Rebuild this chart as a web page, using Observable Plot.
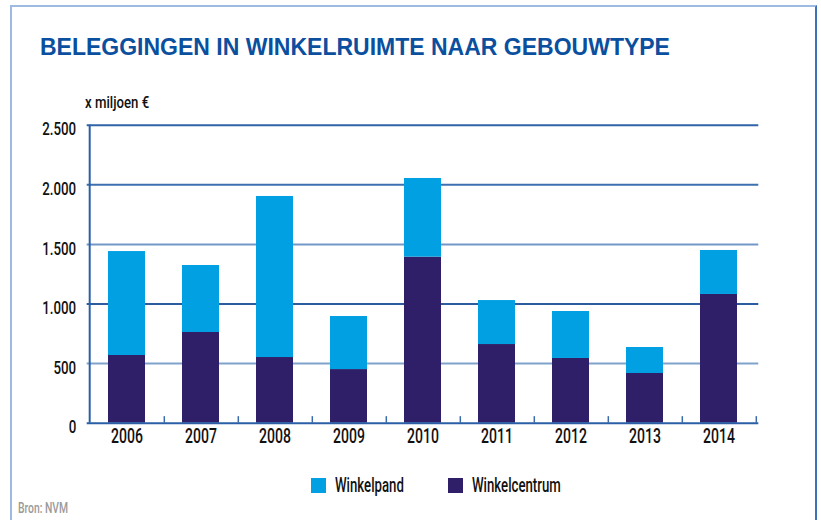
<!DOCTYPE html>
<html>
<head>
<meta charset="utf-8">
<script src="https://cdn.jsdelivr.net/npm/d3@7"></script>
<script src="https://cdn.jsdelivr.net/npm/@observablehq/plot@0.6"></script>
<style>
  html, body { margin: 0; padding: 0; background: #fff; }
  #wrap { position: relative; width: 821px; height: 520px; overflow: hidden; background: #fff;
          font-family: Roboto, 'DejaVu Sans Condensed', sans-serif; font-weight: 500; }
  #frame { position: absolute; left: 10px; top: 5px; width: 803px; height: 600px;
           border-top: 2px solid #9dbbe0; border-left: 2px solid #9dbbe0; border-right: 2px solid #3f73b8; }
  #title { position: absolute; left: 40px; top: 34px; font-family: 'Liberation Sans', Arial, sans-serif;
           font-weight: 700; font-size: 23px; color: #0b4f9f; white-space: nowrap; }
  .cond { display: inline-block; transform-origin: left center; white-space: nowrap; }
  #unit { position: absolute; left: 85px; top: 93px; font-size: 16.5px; color: #111; }
  #unit .cond { transform: scaleX(0.8); }
  #chart { position: absolute; left: 0; top: 100px; }
  .leg { position: absolute; top: 473px; display: flex; align-items: center; font-size: 20px; color: #111; white-space: nowrap; height: 24px; }
  .leg .cond { transform: scaleX(0.66); }
  .sw { width: 15px; height: 15px; margin-right: 9px; flex: none; }
  #src { position: absolute; left: 18px; top: 500px; font-size: 14px; color: #9a9a9a; }
  #src .cond { transform: scaleX(0.74); }
</style>
</head>
<body>
<div id="wrap">
  <div id="frame"></div>
  <div id="title">BELEGGINGEN IN WINKELRUIMTE NAAR GEBOUWTYPE</div>
  <div id="unit"><span class="cond">x miljoen €</span></div>
  <div id="chart"></div>
  <div class="leg" id="leg1" style="left:311px"></div>
  <div class="leg" id="leg2" style="left:448px"></div>
  <div id="src"><span class="cond">Bron: NVM</span></div>
</div>
<script>
// ---- data ----
const years = ["2006","2007","2008","2009","2010","2011","2012","2013","2014"];
const winkelcentrum = [568, 761, 551, 450, 1393, 660, 543, 417, 1080];
const winkelpand    = [872, 562, 1351, 445, 660, 369, 394, 218, 369];
const seriesNames = ["Winkelcentrum", "Winkelpand"];
const seriesColors = ["#2e1f68", "#00a0e2"];
const yTicks = [0, 500, 1000, 1500, 2000, 2500];
const gridValues = [500, 1000, 1500, 2000, 2500];
const gridColors = ["#80a3cc", "#2b5c9e", "#7298c8", "#3d70b0", "#2f64a8"];

// ---- table for stacking (bottom series first) ----
const table = [];
years.forEach((y, i) => table.push({year: y, type: seriesNames[0], value: winkelcentrum[i]}));
years.forEach((y, i) => table.push({year: y, type: seriesNames[1], value: winkelpand[i]}));
const colorOf = Object.fromEntries(seriesNames.map((n, i) => [n, seriesColors[i]]));

const W = 821, H = 360;
const mL = 86.7, mR = 62.7, mT = 24.7, mB = 37.3;
const step = (W - mL - mR) / years.length;
const fmt = d => d3.format(",")(d).replace(/,/g, ".");

const plot = Plot.plot({
  width: W, height: H,
  marginLeft: mL, marginRight: mR, marginTop: mT, marginBottom: mB,
  style: {fontFamily: "Roboto, 'DejaVu Sans Condensed', sans-serif", fontWeight: 500, fontSize: "18px", color: "#111", background: "transparent"},
  x: {domain: years, axis: null, paddingInner: 0.5, paddingOuter: 0.25},
  y: {domain: [0, 2500], axis: null},
  color: {type: "identity"},
  marks: [
    Plot.ruleY(gridValues, {y: d => d, stroke: (d, i) => gridColors[i], strokeWidth: 2}),
    Plot.barY(table, {x: "year", y: "value", fill: d => colorOf[d.type]}),
    Plot.ruleY([0], {stroke: "#2a5fa8", strokeWidth: 2}),
    Plot.ruleX([years[0]], {x: d => d, dx: -step / 2, y1: 0, y2: 2500, stroke: "#2a5fa8", strokeWidth: 2}),
    Plot.ruleX(years, {x: d => d, dx: step / 2, y1: 0, y2: 55, stroke: "#3a6aaa", strokeWidth: 1.5}),
    Plot.text(yTicks, {y: d => d, text: fmt, frameAnchor: "left", dx: -11, dy: 4.5, textAnchor: "end", fill: "#111", fontSize: 18, className: "condy"}),
    Plot.text(years, {x: d => d, text: d => d, frameAnchor: "bottom", dy: 19.5, fill: "#111", fontSize: 19.5, className: "condx"})
  ]
});
document.getElementById("chart").appendChild(plot);

// condense the tick label text horizontally around its anchor point
function condense(sel, k) {
  plot.querySelectorAll(sel + " text").forEach(t => {
    const tr = t.getAttribute("transform");
    if (tr) {
      t.setAttribute("transform", tr + ` scale(${k},1)`);
    } else {
      const x = +t.getAttribute("x") || 0, y = +t.getAttribute("y") || 0;
      t.removeAttribute("x"); t.removeAttribute("y");
      t.setAttribute("transform", `translate(${x},${y}) scale(${k},1)`);
    }
  });
}
condense(".condy", 0.74);
condense(".condx", 0.72);

// ---- legend ----
[["leg1", 1], ["leg2", 0]].forEach(([id, i]) => {
  const el = document.getElementById(id);
  el.innerHTML = `<div class="sw" style="background:${seriesColors[i]}"></div><span class="cond">${seriesNames[i]}</span>`;
});
</script>
</body>
</html>
